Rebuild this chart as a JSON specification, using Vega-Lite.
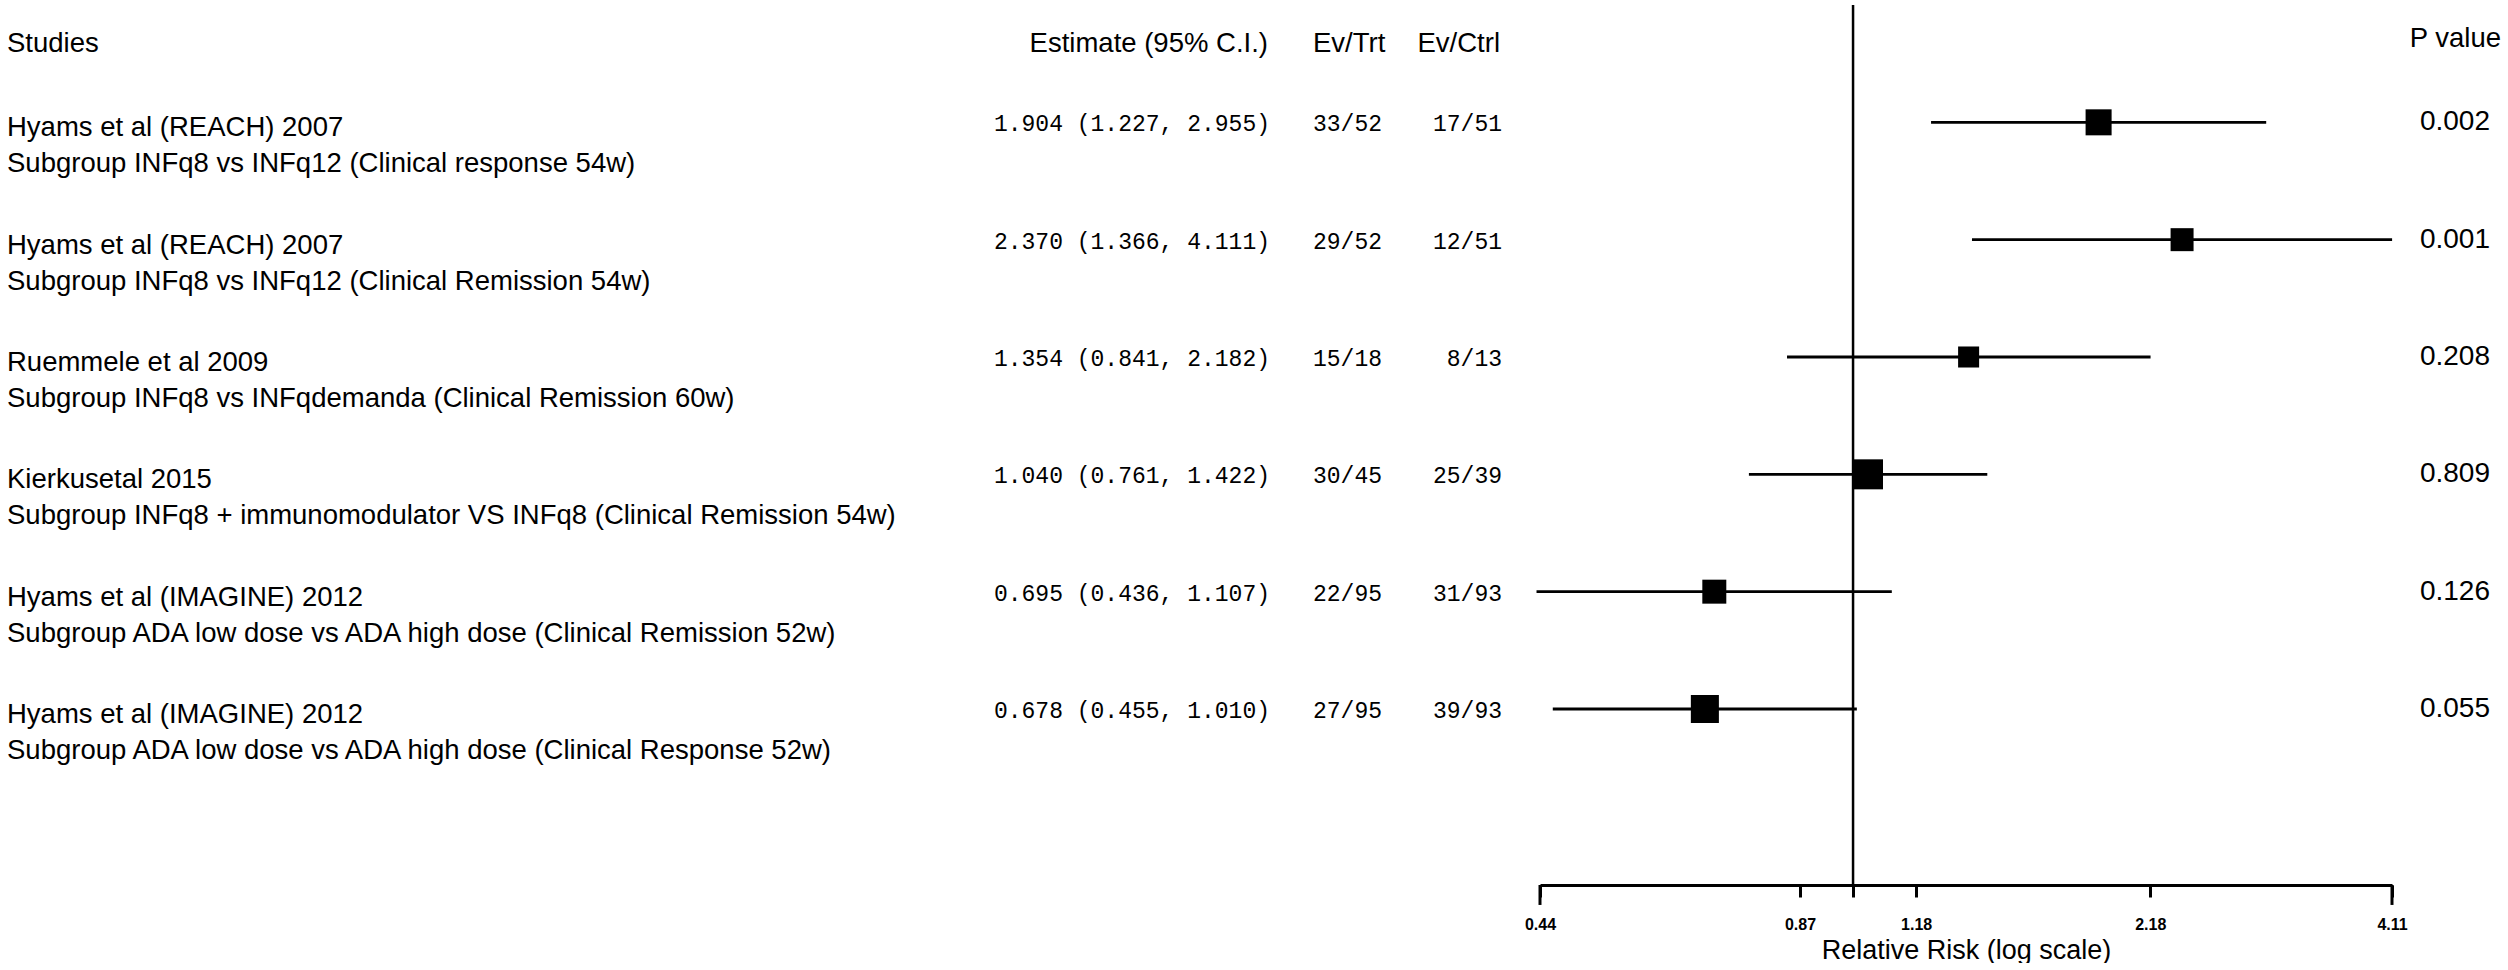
{
  "$schema": "https://vega.github.io/schema/vega-lite/v6.json",
  "padding": 0,
  "spacing": 0,
  "bounds": "flush",
  "background": "white",
  "config": {
    "view": {"stroke": null},
    "font": "Liberation Sans",
    "text": {"color": "black", "font": "Liberation Sans", "fontSize": 27.5, "baseline": "middle"}
  },
  "datasets": {
    "rows": [
      {"row": 1, "study": "Hyams et al (REACH) 2007", "subgroup": "Subgroup INFq8 vs INFq12 (Clinical response 54w)", "ci": "1.904 (1.227, 2.955)", "evt": "33/52", "evc": "17/51", "est": 1.904, "lo": 1.227, "hi": 2.955, "weight": 17.3, "p": "0.002"},
      {"row": 2, "study": "Hyams et al (REACH) 2007", "subgroup": "Subgroup INFq8 vs INFq12 (Clinical Remission 54w)", "ci": "2.370 (1.366, 4.111)", "evt": "29/52", "evc": "12/51", "est": 2.370, "lo": 1.366, "hi": 4.111, "weight": 13.5, "p": "0.001"},
      {"row": 3, "study": "Ruemmele et al 2009", "subgroup": "Subgroup INFq8 vs INFqdemanda (Clinical Remission 60w)", "ci": "1.354 (0.841, 2.182)", "evt": "15/18", "evc": "8/13", "est": 1.354, "lo": 0.841, "hi": 2.182, "weight": 11.3, "p": "0.208"},
      {"row": 4, "study": "Kierkusetal 2015", "subgroup": "Subgroup INFq8 + immunomodulator VS INFq8 (Clinical Remission 54w)", "ci": "1.040 (0.761, 1.422)", "evt": "30/45", "evc": "25/39", "est": 1.040, "lo": 0.761, "hi": 1.422, "weight": 23.0, "p": "0.809"},
      {"row": 5, "study": "Hyams et al (IMAGINE) 2012", "subgroup": "Subgroup ADA low dose vs ADA high dose (Clinical Remission 52w)", "ci": "0.695 (0.436, 1.107)", "evt": "22/95", "evc": "31/93", "est": 0.695, "lo": 0.436, "hi": 1.107, "weight": 14.7, "p": "0.126"},
      {"row": 6, "study": "Hyams et al (IMAGINE) 2012", "subgroup": "Subgroup ADA low dose vs ADA high dose (Clinical Response 52w)", "ci": "0.678 (0.455, 1.010)", "evt": "27/95", "evc": "39/93", "est": 0.678, "lo": 0.455, "hi": 1.010, "weight": 20.1, "p": "0.055"}
    ],
    "header": [{"row": 0.33}],
    "endticks": [{"v": 0.44}, {"v": 4.11}]
  },
  "hconcat": [
    {
      "width": 1270,
      "height": 885,
      "layer": [
        {
          "data": {"name": "header"},
          "mark": {"type": "text", "align": "left", "dx": 7},
          "encoding": {
            "x": {"datum": 0, "type": "quantitative", "scale": {"domain": [0, 1]}, "axis": null},
            "y": {"field": "row", "type": "quantitative", "scale": {"domain": [-0.0426, 7.5], "reverse": true, "nice": false, "zero": false}, "axis": null},
            "text": {"value": "Studies"}
          }
        },
        {
          "data": {"name": "header"},
          "mark": {"type": "text", "align": "right", "dx": -2},
          "encoding": {
            "x": {"datum": 1, "type": "quantitative", "scale": {"domain": [0, 1]}, "axis": null},
            "y": {"field": "row", "type": "quantitative", "scale": {"domain": [-0.0426, 7.5], "reverse": true, "nice": false, "zero": false}, "axis": null},
            "text": {"value": "Estimate (95% C.I.)"}
          }
        },
        {
          "data": {"name": "rows"},
          "mark": {"type": "text", "align": "left", "dx": 7, "dy": 6},
          "encoding": {
            "x": {"datum": 0, "type": "quantitative", "scale": {"domain": [0, 1]}, "axis": null},
            "y": {"field": "row", "type": "quantitative", "scale": {"domain": [-0.0426, 7.5], "reverse": true, "nice": false, "zero": false}, "axis": null},
            "text": {"field": "study"}
          }
        },
        {
          "data": {"name": "rows"},
          "mark": {"type": "text", "align": "left", "dx": 7, "dy": 42},
          "encoding": {
            "x": {"datum": 0, "type": "quantitative", "scale": {"domain": [0, 1]}, "axis": null},
            "y": {"field": "row", "type": "quantitative", "scale": {"domain": [-0.0426, 7.5], "reverse": true, "nice": false, "zero": false}, "axis": null},
            "text": {"field": "subgroup"}
          }
        },
        {
          "data": {"name": "rows"},
          "mark": {"type": "text", "align": "right", "dy": 2, "font": "Liberation Mono", "fontSize": 23},
          "encoding": {
            "x": {"datum": 1, "type": "quantitative", "scale": {"domain": [0, 1]}, "axis": null},
            "y": {"field": "row", "type": "quantitative", "scale": {"domain": [-0.0426, 7.5], "reverse": true, "nice": false, "zero": false}, "axis": null},
            "text": {"field": "ci"}
          }
        }
      ]
    },
    {
      "width": 270,
      "height": 885,
      "layer": [
        {
          "data": {"name": "header"},
          "mark": {"type": "text", "align": "left", "dx": 43},
          "encoding": {
            "x": {"datum": 0, "type": "quantitative", "scale": {"domain": [0, 1]}, "axis": null},
            "y": {"field": "row", "type": "quantitative", "scale": {"domain": [-0.0426, 7.5], "reverse": true, "nice": false, "zero": false}, "axis": null},
            "text": {"value": "Ev/Trt"}
          }
        },
        {
          "data": {"name": "header"},
          "mark": {"type": "text", "align": "right", "dx": -40},
          "encoding": {
            "x": {"datum": 1, "type": "quantitative", "scale": {"domain": [0, 1]}, "axis": null},
            "y": {"field": "row", "type": "quantitative", "scale": {"domain": [-0.0426, 7.5], "reverse": true, "nice": false, "zero": false}, "axis": null},
            "text": {"value": "Ev/Ctrl"}
          }
        },
        {
          "data": {"name": "rows"},
          "mark": {"type": "text", "align": "left", "dx": 43, "dy": 2, "font": "Liberation Mono", "fontSize": 23},
          "encoding": {
            "x": {"datum": 0, "type": "quantitative", "scale": {"domain": [0, 1]}, "axis": null},
            "y": {"field": "row", "type": "quantitative", "scale": {"domain": [-0.0426, 7.5], "reverse": true, "nice": false, "zero": false}, "axis": null},
            "text": {"field": "evt"}
          }
        },
        {
          "data": {"name": "rows"},
          "mark": {"type": "text", "align": "right", "dx": -38, "dy": 2, "font": "Liberation Mono", "fontSize": 23},
          "encoding": {
            "x": {"datum": 1, "type": "quantitative", "scale": {"domain": [0, 1]}, "axis": null},
            "y": {"field": "row", "type": "quantitative", "scale": {"domain": [-0.0426, 7.5], "reverse": true, "nice": false, "zero": false}, "axis": null},
            "text": {"field": "evc"}
          }
        }
      ]
    },
    {
      "width": 852,
      "height": 885,
      "layer": [
        {
          "data": {"name": "rows"},
          "mark": {"type": "square", "color": "black", "filled": true, "opacity": 1},
          "encoding": {
            "x": {
              "field": "est",
              "type": "quantitative",
              "scale": {"type": "log", "domain": [0.44, 4.11], "nice": false, "zero": false},
              "axis": {
                "values": [0.44, 0.87, 1, 1.18, 2.18, 4.11],
                "labelExpr": "datum.value == 1 ? '' : format(datum.value, '.2f')",
                "domainColor": "black",
                "domainWidth": 3,
                "tickColor": "black",
                "tickWidth": 3,
                "tickSize": 12,
                "labelFont": "Liberation Sans",
                "labelFontSize": 16,
                "labelFontWeight": "bold",
                "labelColor": "black",
                "labelPadding": 19,
                "labelFlush": false,
                "labelOverlap": false,
                "grid": false,
                "title": "Relative Risk (log scale)",
                "titleFont": "Liberation Sans",
                "titleFontSize": 27,
                "titleFontWeight": "normal",
                "titleColor": "black",
                "titlePadding": 5
              }
            },
            "y": {"field": "row", "type": "quantitative", "scale": {"domain": [-0.0426, 7.5], "reverse": true, "nice": false, "zero": false}, "axis": null},
            "size": {"field": "weight", "type": "quantitative", "scale": {"domain": [0, 23], "range": [0, 900]}, "legend": null}
          }
        },
        {
          "data": {"name": "rows"},
          "mark": {"type": "rule", "color": "black", "strokeWidth": 2.8},
          "encoding": {
            "x": {"field": "lo", "type": "quantitative"},
            "x2": {"field": "hi"},
            "y": {"field": "row", "type": "quantitative", "scale": {"domain": [-0.0426, 7.5], "reverse": true, "nice": false, "zero": false}, "axis": null}
          }
        },
        {
          "data": {"name": "header"},
          "mark": {"type": "rule", "color": "black", "strokeWidth": 2.5},
          "encoding": {
            "x": {"datum": 1, "type": "quantitative"},
            "y": {"datum": 0, "type": "quantitative", "scale": {"domain": [-0.0426, 7.5], "reverse": true, "nice": false, "zero": false}, "axis": null},
            "y2": {"datum": 7.5}
          }
        },
        {
          "data": {"name": "endticks"},
          "mark": {"type": "rule", "color": "black", "strokeWidth": 3},
          "encoding": {
            "x": {"field": "v", "type": "quantitative"},
            "y": {"datum": 7.5, "type": "quantitative", "scale": {"domain": [-0.0426, 7.5], "reverse": true, "nice": false, "zero": false}, "axis": null},
            "y2": {"datum": 7.67}
          }
        }
      ]
    },
    {
      "width": 116,
      "height": 885,
      "layer": [
        {
          "data": {"name": "header"},
          "mark": {"type": "text", "align": "right", "dx": -7, "dy": -5},
          "encoding": {
            "x": {"datum": 1, "type": "quantitative", "scale": {"domain": [0, 1]}, "axis": null},
            "y": {"field": "row", "type": "quantitative", "scale": {"domain": [-0.0426, 7.5], "reverse": true, "nice": false, "zero": false}, "axis": null},
            "text": {"value": "P value"}
          }
        },
        {
          "data": {"name": "rows"},
          "mark": {"type": "text", "align": "right", "dx": -18, "dy": 0, "font": "Liberation Sans Narrow, Liberation Sans", "fontSize": 28},
          "encoding": {
            "x": {"datum": 1, "type": "quantitative", "scale": {"domain": [0, 1]}, "axis": null},
            "y": {"field": "row", "type": "quantitative", "scale": {"domain": [-0.0426, 7.5], "reverse": true, "nice": false, "zero": false}, "axis": null},
            "text": {"field": "p"}
          }
        }
      ]
    }
  ]
}
